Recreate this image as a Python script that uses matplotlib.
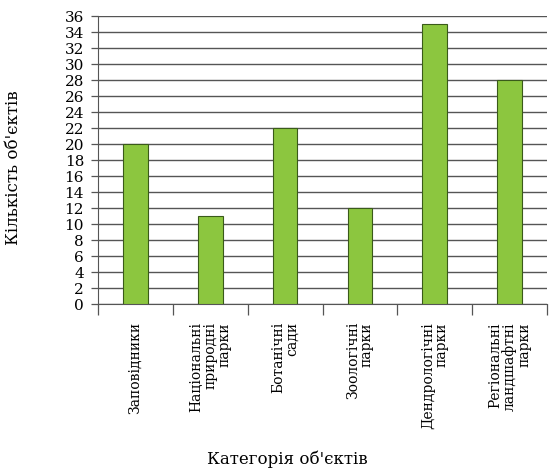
import matplotlib
matplotlib.use("Agg")
import matplotlib.pyplot as plt
import numpy as np

categories = ["Заповідники", "Національні\nприродні\nпарки", "Ботанічні\nсади",
              "Зоологічні\nпарки", "Дендрологічні\nпарки", "Регіональні\nландшафтні\nпарки"]
values = [20, 11, 22, 12, 35, 28]
yticks = list(range(0, 37, 2))

plt.rcParams['font.family'] = ['DejaVu Serif']

fig = plt.figure(figsize=(5.5, 4.7), dpi=100)
ax = fig.add_axes([98/550, 1-304/470, (547-98)/550, (304-16)/470])

x = np.arange(len(categories))
ax.set_axisbelow(True)
ax.bar(x, values, width=0.33, color='#8cc63f', edgecolor='#3a5a1a', linewidth=0.8, zorder=3)

ax.set_xlim(-0.5, len(categories) - 0.5)
ax.set_ylim(0, 36)
ax.set_yticks(yticks)
ax.set_yticklabels([str(t) for t in yticks], fontsize=11)
ax.yaxis.grid(True, color='#555555', linewidth=1.0)
ax.tick_params(axis='y', direction='out', length=5, width=0.9, color='#555555', pad=5)

ax.set_xticks(x)
ax.set_xticklabels(categories, rotation=90, fontsize=10, va='top', ha='center',
                   multialignment='right', linespacing=1.0)
ax.tick_params(axis='x', which='major', length=0, pad=13)
ax.set_xticks(np.arange(-0.5, len(categories), 1.0), minor=True)
ax.tick_params(axis='x', which='minor', direction='out', length=8, width=0.9, color='#555555')

for s in ['top', 'right']:
    ax.spines[s].set_visible(False)
ax.spines['left'].set_color('#555555')
ax.spines['bottom'].set_color('#555555')

fig.text(14/550, 1-168/470, "Кількість об'єктів", fontsize=12, rotation=90,
         ha='center', va='center')
fig.text(287/550, 1-459/470, "Категорія об'єктів", fontsize=12, ha='center', va='center')

fig.savefig("out.png", dpi=100)
